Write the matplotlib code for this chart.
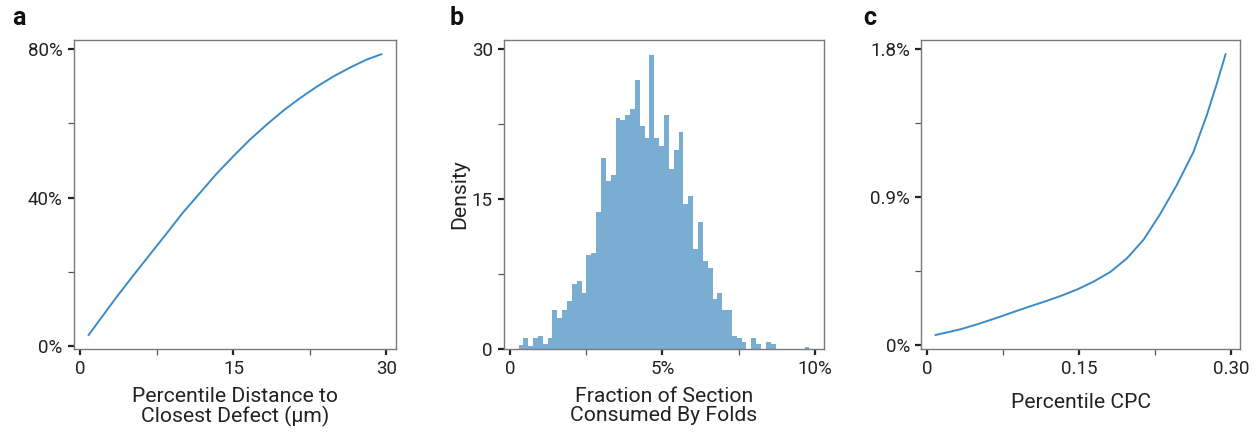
import matplotlib
matplotlib.use("Agg")
import matplotlib.pyplot as plt
from matplotlib.ticker import FuncFormatter, MultipleLocator
import numpy as np

plt.rcParams["font.family"] = ["Roboto", "DejaVu Sans"]

# panel a: percentile distance to closest defect (um) vs percentile
dist_um = [0.8, 3.5, 5.1, 6.8, 8.5, 10.0, 11.7, 13.3, 15.0, 16.6, 18.3, 19.9,
           21.5, 23.2, 24.8, 26.5, 28.1, 29.5]
dist_pct = [0.029, 0.130, 0.187, 0.246, 0.305, 0.358, 0.412, 0.463, 0.512, 0.556,
            0.598, 0.635, 0.668, 0.700, 0.727, 0.752, 0.773, 0.787]

# panel b: histogram of fraction of section consumed by folds
fold_lo, fold_hi, n_bins = 0.0027, 0.0983, 60
fold_density = [
    0.40, 1.07, 0.27, 1.07, 1.34, 0.50, 1.07, 3.95, 3.08, 3.92,
    4.76, 6.47, 6.77, 5.63, 9.38, 9.61, 13.67, 19.10, 16.82, 17.42,
    23.12, 22.88, 23.38, 24.02, 26.87, 22.28, 21.10, 29.40, 21.10, 20.27,
    23.38, 18.02, 19.93, 21.70, 14.50, 15.34, 9.98, 12.73, 8.78, 8.14,
    5.03, 5.63, 3.95, 3.95, 1.34, 1.07, 0.74, 0.0, 1.07, 0.50,
    0.0, 0.74, 0.50, 0.0, 0.0, 0.0, 0.0, 0.0, 0.0, 0.23,
]

# panel c: percentile CPC
cpc = [0.0082, 0.0329, 0.0493, 0.0657, 0.0821, 0.0986, 0.115, 0.1314, 0.1479,
       0.1643, 0.1807, 0.1972, 0.2136, 0.2300, 0.2464, 0.2629, 0.2760, 0.2859, 0.2947]
cpc_pct = [0.00062, 0.00097, 0.00127, 0.00160, 0.00195, 0.00230, 0.00263, 0.00298,
           0.00338, 0.00386, 0.00444, 0.00527, 0.00640, 0.00795, 0.00971, 0.01172,
           0.01394, 0.01585, 0.01766]

line_color = "#3a8cc8"
bar_color = "#79add2"
spine_color = "#7a7a7a"
text_color = "#222222"


def style_axes(ax):
    for s in ax.spines.values():
        s.set_color(spine_color)
        s.set_linewidth(1.0)
    ax.tick_params(which="major", length=4, width=1.6, color="#222222",
                   labelsize=13.5, labelcolor=text_color, pad=4)
    ax.tick_params(which="minor", length=4, width=0.9, color="#555555")


def pct(dec):
    def f(v, pos):
        if abs(v) < 1e-12:
            return "0%"
        return f"{v * 100:.{dec}f}%"
    return FuncFormatter(f)


def pct_zero_plain(v, pos):
    if abs(v) < 1e-12:
        return "0"
    return f"{v * 100:.0f}%"


fig = plt.figure(figsize=(12.6, 4.32), dpi=100)
bottom, height = 0.192, 0.715
ax_a = fig.add_axes([0.0587, bottom, 0.2556, height])
ax_b = fig.add_axes([0.400, bottom, 0.254, height])
ax_c = fig.add_axes([0.731, bottom, 0.2532, height])

label_kw = dict(fontsize=15.2, color=text_color, linespacing=1.05)

# a
ax_a.plot(dist_um, dist_pct, color=line_color, lw=1.4)
ax_a.xaxis.set_major_locator(MultipleLocator(15))
ax_a.xaxis.set_minor_locator(MultipleLocator(7.5))
ax_a.yaxis.set_major_locator(MultipleLocator(0.4))
ax_a.yaxis.set_minor_locator(MultipleLocator(0.2))
ax_a.yaxis.set_major_formatter(pct(0))
ax_a.set_xlabel("Percentile Distance to\nClosest Defect (µm)", labelpad=6, **label_kw)
style_axes(ax_a)

# b
edges = np.linspace(fold_lo, fold_hi, n_bins + 1)
ax_b.stairs(fold_density, edges, fill=True, color=bar_color, lw=0)
ax_b.margins(x=0.05, y=0.05)
ax_b.set_ylim(bottom=0)
ax_b.xaxis.set_major_locator(MultipleLocator(0.05))
ax_b.xaxis.set_minor_locator(MultipleLocator(0.025))
ax_b.xaxis.set_major_formatter(FuncFormatter(pct_zero_plain))
ax_b.yaxis.set_major_locator(MultipleLocator(15))
ax_b.yaxis.set_minor_locator(MultipleLocator(7.5))
ax_b.set_xlabel("Fraction of Section\nConsumed By Folds", labelpad=6, **label_kw)
ax_b.set_ylabel("Density", labelpad=2, **label_kw)
style_axes(ax_b)

# c
ax_c.plot(cpc, cpc_pct, color=line_color, lw=1.4)
ax_c.xaxis.set_major_locator(MultipleLocator(0.15))
ax_c.xaxis.set_minor_locator(MultipleLocator(0.075))
ax_c.xaxis.set_major_formatter(FuncFormatter(lambda v, p: "0" if abs(v) < 1e-12 else f"{v:.2f}"))
ax_c.yaxis.set_major_locator(MultipleLocator(0.009))
ax_c.yaxis.set_minor_locator(MultipleLocator(0.0045))
ax_c.yaxis.set_major_formatter(pct(1))
ax_c.set_xlabel("Percentile CPC", labelpad=11, **label_kw)
style_axes(ax_c)

for x, lab in [(0.010, "a"), (0.357, "b"), (0.685, "c")]:
    fig.text(x, 0.985, lab, fontsize=18, fontweight="bold", va="top", ha="left", color="#111111")

fig.savefig("out.png", dpi=100)
